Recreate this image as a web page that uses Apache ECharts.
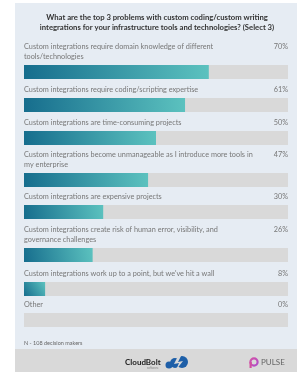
<!DOCTYPE html>
<html>
<head>
<meta charset="utf-8">
<script src="https://cdn.jsdelivr.net/npm/echarts@6/dist/echarts.min.js"></script>
<style>
  html, body { margin: 0; padding: 0; background: #fff; }
  #chart { width: 298px; height: 372px; }
</style>
</head>
<body>
<div id="chart"></div>
<script>
// survey answers, one bar each
let categories = [
    "Custom integrations require domain knowledge of different\ntools/technologies",
    "Custom integrations require coding/scripting expertise",
    "Custom integrations are time-consuming projects",
    "Custom integrations become unmanageable as I introduce more tools in\nmy enterprise",
    "Custom integrations are expensive projects",
    "Custom integrations create risk of human error, visibility, and\ngovernance challenges",
    "Custom integrations work up to a point, but we've hit a wall",
    "Other"
];
let values = [70, 61, 50, 47, 30, 26, 8, 0];
let titleText = "What are the top 3 problems with custom coding/custom writing\nintegrations for your infrastructure tools and technologies? (Select 3)";
let noteText = "N - 108 decision makers";

// layout
let barLeft = 24;
let barWidth = 264;
let barH = 14;
let barTops = [65, 98, 131, 173, 205, 248, 282, 313];

let chartDom = document.getElementById("chart");
let chart = echarts.init(chartDom);

let grids = [], xAxes = [], yAxes = [], series = [], graphics = [];

graphics.push({ type: 'rect', shape: { x: 15, y: 3, width: 282, height: 346 }, style: { fill: '#e6ecf3' }, z: -10 });
graphics.push({ type: 'rect', shape: { x: 15, y: 349, width: 282, height: 23 }, style: { fill: '#d9d9d9' }, z: -10 });
graphics.push({
    type: 'text', x: 157, y: 13,
    style: { text: titleText, fontFamily: 'Lato', fontWeight: 'bold', fontSize: 7.7, lineHeight: 10, fill: '#333', align: 'center' }
});

let barColor = new echarts.graphic.LinearGradient(0, 1, 1, 0, [
    { offset: 0, color: '#166d8d' },
    { offset: 1, color: '#5cc2bf' }
]);

categories.forEach((cat, i) => {
    grids.push({ left: barLeft, top: barTops[i], width: barWidth, height: barH });
    xAxes.push({ type: 'value', gridIndex: i, min: 0, max: 100, show: false });
    yAxes.push({ type: 'category', gridIndex: i, data: [cat], show: false });
    series.push({
        type: 'bar',
        xAxisIndex: i,
        yAxisIndex: i,
        data: [values[i]],
        barWidth: barH,
        showBackground: true,
        backgroundStyle: { color: '#d9d9d9' },
        itemStyle: { color: barColor },
        silent: true
    });
    let lines = cat.split("\n").length;
    let textTop = barTops[i] - 4 - lines * 9.5;
    graphics.push({
        type: 'text', x: barLeft, y: textTop,
        style: { text: cat, fontFamily: 'Lato', fontSize: 7.3, lineHeight: 9.5, fill: '#777' }
    });
    graphics.push({
        type: 'text', x: barLeft + barWidth, y: textTop,
        style: { text: values[i] + '%', fontFamily: 'Lato', fontSize: 7.3, lineHeight: 9.5, fill: '#777', align: 'right' }
    });
});

graphics.push({
    type: 'text', x: 24, y: 340,
    style: { text: noteText, fontFamily: 'Lato', fontSize: 5.5, fill: '#666' }
});

// footer logos
graphics.push({
    type: 'text', x: 125, y: 358,
    style: { text: 'CloudBolt', fontFamily: 'Lato', fontWeight: 'bold', fontSize: 8, fill: '#222' }
});
graphics.push({
    type: 'text', x: 147, y: 366.5,
    style: { text: 'software', fontFamily: 'Lato', fontSize: 3, fill: '#888' }
});
graphics.push({ type: 'circle', shape: { cx: 175, cy: 363, r: 5 }, style: { fill: '#1e5fa8' } });
graphics.push({ type: 'circle', shape: { cx: 182, cy: 362, r: 6 }, style: { fill: '#1e5fa8' } });
graphics.push({ type: 'circle', shape: { cx: 169, cy: 365, r: 3.5 }, style: { fill: '#1e5fa8' } });
graphics.push({ type: 'polygon', shape: { points: [[178, 356], [174, 364], [179, 363], [176, 370], [183, 361], [178, 362], [181, 356]] }, style: { fill: '#d9d9d9' } });

graphics.push({
    type: 'circle', shape: { cx: 254, cy: 362, r: 3.6 },
    style: { fill: 'none', stroke: new echarts.graphic.LinearGradient(0, 0, 1, 1, [{ offset: 0, color: '#e0529c' }, { offset: 1, color: '#a24bd6' }]), lineWidth: 2.2 }
});
graphics.push({ type: 'rect', shape: { x: 249.5, y: 362, width: 2.2, height: 6 }, style: { fill: '#d2509f' } });
graphics.push({
    type: 'text', x: 261, y: 358,
    style: { text: 'PULSE', fontFamily: 'Lato', fontSize: 8, fill: '#666' }
});

let option = {
    animation: false,
    grid: grids,
    xAxis: xAxes,
    yAxis: yAxes,
    series: series,
    graphic: graphics
};

chart.setOption(option);
</script>
</body>
</html>
